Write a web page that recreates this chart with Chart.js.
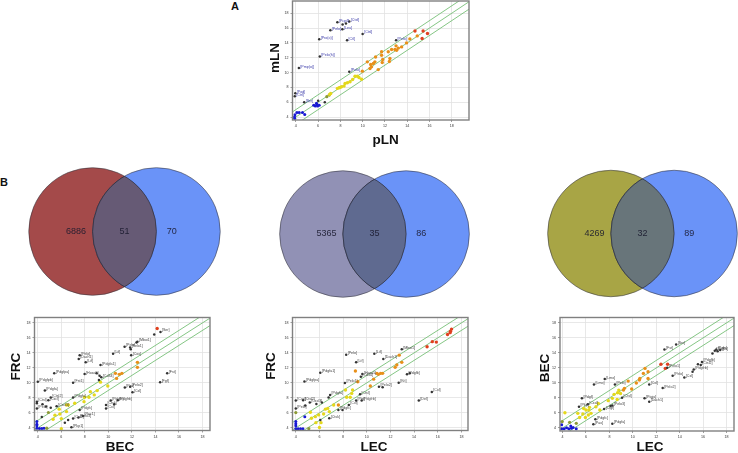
<!DOCTYPE html>
<html>
<head>
<meta charset="utf-8">
<title>Expression scatter and venn panels</title>
<script src="https://cdn.jsdelivr.net/npm/chart.js@4/dist/chart.umd.min.js"></script>
<style>
	html, body { margin: 0; padding: 0; background: #fff; }
	#page { position: relative; width: 738px; height: 453px; overflow: hidden; }
	#page canvas { position: absolute; }
	.tag { position: absolute; font: bold 11px "Liberation Sans", sans-serif; color: #111; line-height: 12px; }
</style>
</head>
<body>
<div id="page">
	<div class="tag" style="left:231px;top:0px">A</div>
	<div class="tag" style="left:0px;top:176px">B</div>
</div>
<script>
//data --- tick labels and the three reference lines

var tickValues = [4, 6, 8, 10, 12, 14, 16, 18];
var lineEnds = [2, 21];
var lineOffsets = [1, 0, -1];

//data --- venn counts

var vennCentres = [0, 1];
var vennRadii = [1, 1];
var vennCountAt = [-0.26, 0.5, 1.24];
var countsFrcBecMln = [6886, 51, 70];
var countsFrcLec = [5365, 35, 86];
var countsBecLec = [4269, 32, 89];

//data --- panel A, pLN against mLN

var aBlack = [[7.73, 16.8], [8.8, 16.87], [8.5, 16.6], [8.2, 16.47], [8.18, 15.84], [7.1, 15.7], [10, 15.2], [6.1, 14.5], [8.6, 14.36], [13, 14.36], [6.15, 12.16], [4.27, 10.6], [8.8, 10.1], [3.95, 7.2], [3.9, 6.8], [4.75, 6], [6, 6.2], [6.6, 6]];
var aBlackLabels = ["[Pcp4]", "[Ctsf]", "", "", "[Leu]", "[Pelo]", "[Ctsl]", "[Pro(o)]", "[Ctl]", "[Pelo]", "[Pelo(h)]", "[Pmp(o)]", "[Pelo]", "[Pod]", "[Ctrl]", "[Ser]", "", ""];
var aBlue = [[3.9, 3.8], [3.88, 4], [3.92, 4.3], [4.1, 4.6], [4.3, 4.6], [4.6, 4.6], [4.8, 4.35], [5.6, 5.6], [5.75, 5.5], [5.9, 5.7], [5.95, 5.5], [6.1, 5.6], [5.85, 5.85]];
var aOlive = [[6.78, 6.74], [7, 6.96]];
var aYellow = [[7.13, 7.18], [7.03, 7.05], [7.73, 7.86], [7.9, 7.95], [8.1, 8.08], [8.42, 8.53], [8.63, 8.62], [8.87, 8.75], [9.1, 9.07], [9.31, 9.5], [9.52, 9.5], [9.67, 9.34], [8.33, 8.17], [7.97, 8], [9.9, 9.1]];
var aOrange = [[9.97, 10.19], [10.42, 11.44], [10.72, 11.09], [10.66, 10.55], [10.96, 11.22], [11.1, 11.44], [10.8, 10.77], [11.16, 12.1], [11.7, 12.8], [11.7, 12.34], [11.8, 11.76], [11.4, 10.4], [11.76, 11.35], [12.3, 12.8], [12.45, 11.9], [12.4, 11.5], [12.6, 13.1], [12.9, 13.1], [13, 13.6], [13.05, 13], [13.2, 13.3], [13.5, 13.46], [13.94, 14], [14.24, 14.54], [14.9, 14.94]];
var aRed = [[14.7, 15.6], [15.43, 15.6], [15.82, 15.26], [15.34, 14.6]];

//data --- panel B left, BEC against FRC

var b1Black = [[14.43, 16.8], [13.9, 16.46], [12.47, 15.5], [12.39, 15.4], [11.38, 14.82], [11.85, 14.73], [11.9, 14.47], [11.94, 13.7], [10.4, 13.9], [7.56, 13.7], [7.48, 13.2], [8.07, 12.74], [9.33, 12.38], [5.4, 11.3], [4, 10.16], [7, 10.03], [4.6, 8.97], [7.98, 11.18], [9, 11.27], [9.25, 10.96], [9.2, 10.4], [9.4, 10.74], [15, 11.27], [14.4, 10.07], [11.4, 9.37], [11.85, 9.5], [12.05, 8.75], [7, 8.04], [5.1, 8.04], [4.9, 7.7], [3.92, 7.5], [3.92, 7.3], [4.4, 7.15], [3.92, 6.57], [4.7, 6.84], [5.1, 6.7], [5.6, 6.9], [7.56, 6.4], [7.84, 5.6], [7.45, 5.4], [7, 5.24], [6.58, 5.06], [6.3, 4.7], [6.86, 4.1], [4.34, 5.46], [10.2, 7.64], [10.8, 7.7], [9.8, 7.06], [10.5, 7.15], [9.8, 6.6]];
var b1BlackLabels = ["[Ser]", "", "[Mboi1]", "", "[Pelo]", "[Pelo1]", "", "[Cox]", "[Lif]", "[Pelo]", "[Dach1]", "[Lif]", "[Pdgfa1]", "[Pdgfpa]", "[Pdgfpb]", "[Fst1]", "[Pdgfa]", "[Hoxa5]", "", "", "", "[Cd34]", "[Fst]", "[Fgf]", "[Pro]", "[Pelo2]", "[Cxl]", "[Pdgfa]", "[Ctsl2]", "[Cxcl]", "[Ctsl]", "", "", "[Pelo]", "", "", "[Cxcl3]", "[Pdgfc]", "[Rac1]", "[Pelo3]", "[Cxl2]", "", "", "[Pkp1]", "", "[Pdgfb]", "[Pdgfrb]", "[Ctsk]", "", "[Cxl]"];
var b1Blue = [[3.92, 4.85], [3.92, 4.5], [3.92, 4.3], [3.92, 3.95], [4.14, 3.92], [4.34, 3.92], [4.53, 3.95]];
var b1Olive = [[4.76, 3.96], [4.9, 6.05]];
var b1Yellow = [[6, 3.9], [6, 5.24], [5.3, 5.15], [5.46, 5.7], [5.82, 6.5], [6.44, 7.06], [6.44, 6.17], [5.88, 5.86], [7.14, 7.28], [6.6, 7.05], [7.93, 7.5], [7.98, 8.08], [8.35, 8.08], [8.47, 8.83], [8.8, 8.4], [9.05, 8.97], [9.33, 10.1], [9.95, 9.58]];
var b1Orange = [[10.7, 10.6], [10.6, 11.27], [10.93, 11.14], [11.15, 11.27], [12.47, 12.74], [12.47, 12.07]];
var b1Red = [[14.15, 17.26]];

//data --- panel B middle, LEC against FRC

var b2Black = [[12.96, 14.47], [10.64, 13.9], [11.4, 13.2], [8.26, 13.76], [9.1, 12.74], [6.07, 11.36], [4.73, 10.2], [9.63, 11.18], [9.5, 10.83], [8.15, 10], [12.7, 10.03], [13.4, 11.14], [13.64, 11.27], [11.03, 9.5], [11.34, 9.41], [15.5, 8.8], [14.4, 7.64], [9.43, 8.48], [9.57, 7.64], [9.1, 7.64], [8.48, 7.06], [6.9, 8.4], [6.77, 8.04], [4, 7.64], [4.62, 7.7], [5.18, 7.37], [4, 6.57], [4.8, 6.97], [5.74, 7.2], [6.2, 7.37], [7.6, 6.4], [7.95, 6.4], [6.83, 5.28], [6.07, 5.06]];
var b2BlackLabels = ["[Mboi1]", "[Lif]", "[Dach1]", "[Pelo]", "[Lif]", "[Pdgfa1]", "[Pdgfpa]", "[Hoxa5]", "[Cd34]", "[Pelo1]", "[Kit]", "[Pdgfb]", "", "[Pelo2]", "", "[Cxl]", "[Del]", "[Ctsl]", "[Pdgfrb]", "[Ptn]", "[Cxl]", "[Pdgfa]", "", "[Cxcl]", "[Ctsl2]", "[Cxcl3]", "[Pelo]", "", "", "", "[Pdgfc]", "", "[Ctsk]", ""];
var b2Blue = [[4, 4.85], [4, 4.55], [4, 4.27], [4, 3.9], [4.2, 3.9], [4.4, 3.9], [4.6, 3.9], [4.76, 5.5]];
var b2Olive = [[5.1, 3.9], [4, 6.04]];
var b2Yellow = [[6, 4.05], [5.23, 6.08], [5.32, 5.28], [5.65, 5.5], [5.7, 4.7], [5.93, 5.73], [6.13, 4.7], [6.35, 5.86], [6.7, 6.6], [6.83, 6.17], [6.5, 6.5], [7.2, 7.06], [8.2, 9.05], [8.3, 8.08], [8.6, 8.08], [8.8, 9.05], [8.73, 8.6]];
var b2Orange = [[12.96, 12.74], [12.74, 13.7], [12.54, 12.4], [12.4, 12.07], [11.34, 11.27], [11.17, 11.27], [10.86, 11.27], [10.97, 11.14], [10.58, 10.5], [10.3, 9.58], [9.04, 11.58], [9.24, 10.16], [7.6, 7.06]];
var b2Red = [[17.17, 17.17], [17.08, 16.9], [17.05, 16.7], [16.83, 16.46], [15.88, 15.44], [15.54, 15.5], [15.1, 14.82]];

//data --- panel B right, LEC against BEC

var b3Black = [[13.7, 15.13], [12.7, 14.47], [16.8, 13.93], [17, 14.3], [17.13, 14.47], [17.46, 14.38], [17.24, 14.24], [15.8, 12.4], [15.56, 12.5], [15.9, 12.8], [15.2, 11.8], [15.1, 11.5], [14.4, 10.74], [13.4, 10.96], [12.94, 12.03], [12.55, 9.32], [11.4, 9.8], [11, 7.95], [11.4, 7.5], [9.08, 8.03], [8.47, 9.8], [7.6, 10.52], [6.68, 9.8], [5.65, 7.95], [5.4, 6.84], [6.15, 7.15], [7.55, 6.53], [8.1, 6.93], [8.25, 7], [6.8, 5.15], [6.63, 4.5], [8.25, 4.57]];
var b3BlackLabels = ["[Ser]", "[Fst]", "", "[Tnc]", "[Pelo]", "[Kit]", "", "[Ctsl2]", "", "[Pdgfb]", "[Pdgfrb]", "", "[Cxl]", "[Pelo]", "[Pelo1]", "[Pelo2]", "[Cxl]", "[Ptgis]", "[Dach1]", "[Ctsl]", "[Pelo]", "[Lmo]", "[Lmo]", "[Pdgf]", "[Pkp]", "[Cxcl]", "[Ctgf]", "", "[Pelo3]", "[Pdgfc]", "[Pax]", "[Pdgfa]"];
var b3Blue = [[3.92, 4.44], [3.92, 3.9], [4.14, 3.9], [4.34, 4.03], [4.53, 3.9], [4.7, 4.27], [4.75, 3.95], [5.17, 3.9], [4.9, 4.08]];
var b3Olive = [[4.6, 4.75], [5.17, 4.62], [3.97, 4.85]];
var b3Yellow = [[4.2, 6.04], [8.4, 8.48], [8.7, 8.7], [8.8, 9.05], [8.25, 7.95], [8.66, 7.8], [7.9, 7.64], [8.95, 8.6], [5.3, 5.95], [5.8, 6.6], [6, 6.4], [6.3, 6.75], [6.25, 6.4], [5.45, 5.4], [5.95, 5.4], [6.2, 5.73], [5.73, 5.86], [6.43, 5.95], [6.85, 6.84], [7.05, 7.28], [7.18, 6.4]];
var b3Orange = [[11.04, 11.94], [10.9, 11.27], [11.3, 11.5], [10.6, 10.6], [10.56, 10.4], [10.3, 10], [11.3, 10.6], [9.6, 10.25], [9.28, 9.28], [9.2, 9.05], [9.9, 9.2]];
var b3Red = [[12.4, 12.5], [12.97, 12.5], [12.77, 11.94]];

//general --- small helpers

var groupColors = {
	black: '#333333',
	blue: '#1818d4',
	olive: '#8c9a36',
	yellow: '#e4d81c',
	orange: '#e8901a',
	red: '#e0401f'
};

var groupRadius = { black: 1.25, blue: 1.5, olive: 1.6, yellow: 1.7, orange: 1.7, red: 1.7 };

function addCanvas(left, top, width, height) {
	var canvas = document.createElement('canvas');
	canvas.width = width;
	canvas.height = height;
	canvas.style.left = left + 'px';
	canvas.style.top = top + 'px';
	canvas.style.width = width + 'px';
	canvas.style.height = height + 'px';
	document.getElementById('page').appendChild(canvas);
	return canvas;
}

function toPoints(pairs) {
	return pairs.map(function (p) {
		return { x: p[0], y: p[1] };
	});
}

//plugin --- grey frame, the tiny gene names and the axis titles

var framePlugin = {
	id: 'frame',
	afterDatasetsDraw: function (chart) {
		var a = chart.chartArea;
		var ctx = chart.ctx;
		ctx.save();
		ctx.strokeStyle = '#808080';
		ctx.lineWidth = 1.4;
		ctx.strokeRect(a.left, a.top, a.right - a.left, a.bottom - a.top);
		ctx.restore();
	}
};

var namePlugin = {
	id: 'names',
	afterDatasetsDraw: function (chart, args, opts) {
		var ctx = chart.ctx;
		ctx.save();
		ctx.font = '3.6px "Liberation Sans"';
		ctx.fillStyle = opts.color;
		ctx.textBaseline = 'middle';
		opts.points.forEach(function (p, i) {
			if (!opts.names[i]) {
				return;
			}
			var x = chart.scales.x.getPixelForValue(p[0]);
			var y = chart.scales.y.getPixelForValue(p[1]);
			ctx.fillText(opts.names[i], x + 1.5, y - 1.5);
		});
		ctx.restore();
	}
};

// titles sit off centre in the original, so the scale's own title can't place them
var titlePlugin = {
	id: 'axisTitles',
	afterDraw: function (chart, args, opts) {
		var ctx = chart.ctx;
		ctx.save();
		ctx.font = 'bold 13.5px "Liberation Sans"';
		ctx.fillStyle = '#111';
		ctx.textAlign = 'center';
		ctx.textBaseline = 'middle';
		ctx.fillText(opts.xText, opts.xAt[0], opts.xAt[1]);
		ctx.translate(opts.yAt[0], opts.yAt[1]);
		ctx.rotate(-Math.PI / 2);
		ctx.fillText(opts.yText, 0, 0);
		ctx.restore();
	}
};

//scatter panels

function scatterPanel(cfg) {
	var box = cfg.box;
	var plot = cfg.plot;
	var datasets = [];

	['black', 'red', 'orange', 'yellow', 'olive', 'blue'].forEach(function (name) {
		datasets.push({
			data: toPoints(cfg.groups[name]),
			backgroundColor: groupColors[name],
			borderWidth: 0,
			pointRadius: groupRadius[name],
			showLine: false
		});
	});

	lineOffsets.forEach(function (off) {
		datasets.push({
			data: lineEnds.map(function (v) {
				return { x: v, y: v + off };
			}),
			borderColor: '#77bf77',
			borderWidth: 0.9,
			pointRadius: 0,
			showLine: true
		});
	});

	var axisTicks = {
		font: { size: 3.6, family: '"Liberation Sans"' },
		color: '#333',
		padding: 2,
		autoSkip: false,
		includeBounds: false,
		stepSize: 2,
		maxRotation: 0
	};
	var grid = { color: '#e2e2e2', lineWidth: 0.8, tickLength: 2, tickColor: '#888' };

	new Chart(addCanvas(box[0], box[1], box[2], box[3]), {
		type: 'scatter',
		data: { datasets: datasets },
		options: {
			responsive: false,
			animation: false,
			layout: { padding: { top: plot[1] - box[1], right: box[0] + box[2] - plot[2], left: 0, bottom: 0 } },
			plugins: {
				legend: { display: false },
				tooltip: { enabled: false },
				names: { points: cfg.groups.black, names: cfg.names, color: cfg.nameColor },
				axisTitles: {
					xText: cfg.xTitle,
					yText: cfg.yTitle,
					xAt: [cfg.xTitleAt[0] - box[0], cfg.xTitleAt[1] - box[1]],
					yAt: [cfg.yTitleAt[0] - box[0], cfg.yTitleAt[1] - box[1]]
				}
			},
			scales: {
				x: {
					min: cfg.xRange[0],
					max: cfg.xRange[1],
					afterBuildTicks: function (s) {
						s.ticks = tickValues.map(function (v) { return { value: v }; });
					},
					ticks: axisTicks,
					grid: grid,
					border: { display: false },
					afterFit: function (s) {
						s.height = box[1] + box[3] - plot[3];
					}
				},
				y: {
					min: cfg.yRange[0],
					max: cfg.yRange[1],
					afterBuildTicks: function (s) {
						s.ticks = tickValues.map(function (v) { return { value: v }; });
					},
					ticks: axisTicks,
					grid: grid,
					border: { display: false },
					afterFit: function (s) {
						s.width = plot[0] - box[0];
					}
				}
			}
		},
		plugins: [framePlugin, namePlugin, titlePlugin]
	});
}

scatterPanel({
	box: [267, -5, 206, 155],
	plot: [292.5, 1, 469.5, 120],
	xRange: [3.7, 19.55],
	yRange: [3.6, 19.65],
	xTitle: 'pLN',
	yTitle: 'mLN',
	xTitleAt: [385.7, 140],
	yTitleAt: [275.7, 58],
	nameColor: '#3838a8',
	names: aBlackLabels,
	groups: { black: aBlack, blue: aBlue, olive: aOlive, yellow: aYellow, orange: aOrange, red: aRed }
});

scatterPanel({
	box: [8, 312, 206, 145],
	plot: [34.5, 317.5, 211.5, 430.5],
	xRange: [3.72, 18.64],
	yRange: [3.65, 18.72],
	xTitle: 'BEC',
	yTitle: 'FRC',
	xTitleAt: [120, 447.5],
	yTitleAt: [16, 366.7],
	nameColor: '#444',
	names: b1BlackLabels,
	groups: { black: b1Black, blue: b1Blue, olive: b1Olive, yellow: b1Yellow, orange: b1Orange, red: b1Red }
});

scatterPanel({
	box: [264, 312, 208, 145],
	plot: [292.5, 317.5, 469.5, 430.5],
	xRange: [3.72, 18.56],
	yRange: [3.65, 18.72],
	xTitle: 'LEC',
	yTitle: 'FRC',
	xTitleAt: [374, 447.5],
	yTitleAt: [271.7, 366],
	nameColor: '#444',
	names: b2BlackLabels,
	groups: { black: b2Black, blue: b2Blue, olive: b2Olive, yellow: b2Yellow, orange: b2Orange, red: b2Red }
});

scatterPanel({
	box: [537, 312, 201, 145],
	plot: [560, 317.5, 737, 431],
	xRange: [3.78, 18.64],
	yRange: [3.6, 18.72],
	xTitle: 'LEC',
	yTitle: 'BEC',
	xTitleAt: [650, 447.5],
	yTitleAt: [545, 368],
	nameColor: '#444',
	names: b3BlackLabels,
	groups: { black: b3Black, blue: b3Blue, olive: b3Olive, yellow: b3Yellow, orange: b3Orange, red: b3Red }
});

//venn panels --- two circles one unit apart, the lens is painted over them

function unitPixels(chart) {
	return chart.scales.x.getPixelForValue(1) - chart.scales.x.getPixelForValue(0);
}

var lensPlugin = {
	id: 'lens',
	afterDatasetsDraw: function (chart, args, opts) {
		var ctx = chart.ctx;
		var xs = chart.scales.x;
		var y = chart.scales.y.getPixelForValue(0);
		var r0 = vennRadii[0] * unitPixels(chart);
		var r1 = vennRadii[1] * unitPixels(chart);
		var x0 = xs.getPixelForValue(vennCentres[0]);
		var x1 = xs.getPixelForValue(vennCentres[1]);

		ctx.save();
		ctx.beginPath();
		ctx.arc(x0, y, r0, 0, Math.PI * 2);
		ctx.clip();
		ctx.beginPath();
		ctx.arc(x1, y, r1, 0, Math.PI * 2);
		ctx.fillStyle = opts.color;
		ctx.fill();
		ctx.strokeStyle = 'rgba(40,40,50,0.85)';
		ctx.lineWidth = 0.8;
		ctx.stroke();
		ctx.restore();

		ctx.save();
		ctx.beginPath();
		ctx.arc(x1, y, r1, 0, Math.PI * 2);
		ctx.clip();
		ctx.beginPath();
		ctx.arc(x0, y, r0, 0, Math.PI * 2);
		ctx.strokeStyle = 'rgba(40,40,50,0.85)';
		ctx.lineWidth = 0.8;
		ctx.stroke();
		ctx.restore();

		ctx.save();
		ctx.font = '9px "Liberation Sans"';
		ctx.fillStyle = 'rgba(25,25,45,0.9)';
		ctx.textAlign = 'center';
		ctx.textBaseline = 'middle';
		opts.counts.forEach(function (c, i) {
			ctx.fillText(String(c), xs.getPixelForValue(vennCountAt[i]), y);
		});
		ctx.restore();
	}
};

function vennPanel(cx, cy, unit, colors, counts) {
	var width = Math.round(3.4 * unit);
	var height = Math.round(2.4 * unit);
	new Chart(addCanvas(Math.round(cx - 1.2 * unit), Math.round(cy - 1.2 * unit), width, height), {
		type: 'scatter',
		data: {
			datasets: [{
				data: vennCentres.map(function (v) {
					return { x: v, y: 0 };
				}),
				clip: false,
				backgroundColor: [colors[0], colors[1]],
				borderColor: 'rgba(50,50,60,0.7)',
				borderWidth: 0.8,
				pointRadius: function (ctx) {
					return vennRadii[ctx.dataIndex] * unitPixels(ctx.chart);
				}
			}]
		},
		options: {
			responsive: false,
			animation: false,
			layout: { padding: 0 },
			plugins: {
				legend: { display: false },
				tooltip: { enabled: false },
				lens: { color: colors[2], counts: counts }
			},
			scales: {
				x: { display: false, min: -1.2, max: 2.2 },
				y: { display: false, min: -1.2, max: 1.2 }
			}
		},
		plugins: [lensPlugin]
	});
}

vennPanel(92.7, 231.3, 63.8, ['#a44a4a', '#6a93f8', '#665a75'], countsFrcBecMln);
vennPanel(342.7, 233.5, 63.3, ['#9191b5', '#6a93f8', '#5f6a90'], countsFrcLec);
vennPanel(610.7, 234, 63.1, ['#a8a545', '#6a93f8', '#68757a'], countsBecLec);
</script>
</body>
</html>
